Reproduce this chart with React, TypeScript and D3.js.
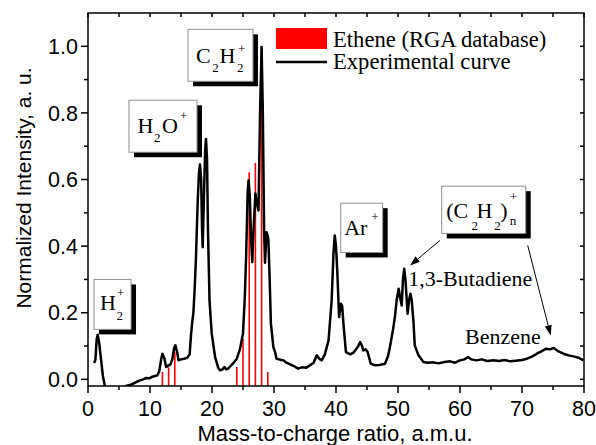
import React from "react";
import * as d3 from "d3";

// ---------- data ----------
const expMass: number[] = [
  1.0, 1.2, 1.4, 1.56, 1.8, 2.1, 2.4, 2.7, 3.0, 4.0, 5.0, 5.8, 6.2, 6.8, 7.3, 7.8, 8.3, 8.9, 9.4, 9.9,
  10.4, 10.8, 11.2, 11.5, 11.8, 12.0, 12.3, 12.6, 13.0, 13.3, 13.6, 13.9, 14.1, 14.4, 14.6, 15.0, 15.5,
  16.0, 16.4, 16.6, 16.8, 17.0, 17.2, 17.4, 17.7, 17.9, 18.06, 18.25, 18.4, 18.5, 18.7, 18.9, 19.03,
  19.2, 19.35, 19.6, 19.95, 20.5, 21.0, 21.3, 21.7, 22.0, 22.3, 22.6, 23.0, 23.5, 24.0, 24.5, 25.0,
  25.3, 25.5, 25.75, 25.9, 26.1, 26.3, 26.5, 26.7, 27.0, 27.2, 27.5, 27.75, 28.0, 28.2, 28.4, 28.55,
  28.8, 29.0, 29.1, 29.3, 29.5, 29.9, 30.2, 30.4, 30.8, 31.2, 31.5, 32.0, 32.6, 33.2, 33.9, 34.5, 35.2,
  35.8, 36.4, 36.9, 37.3, 37.7, 38.2, 38.8, 39.3, 39.6, 39.8, 40.0, 40.2, 40.5, 40.8, 41.0, 41.2, 41.6,
  42.3, 42.8, 43.1, 43.6, 43.9, 44.2, 44.4, 44.8, 45.1, 45.6, 46.3, 47.0, 47.9, 48.4, 48.7, 49.2, 49.5,
  49.8, 50.1, 50.4, 50.6, 50.8, 51.0, 51.2, 51.55, 51.8, 52.0, 52.2, 52.5, 52.7, 53.3, 54.1, 54.8, 55.7,
  56.5, 57.5, 58.4, 59.2, 60.0, 60.7, 61.3, 61.8, 62.7, 63.5, 64.4, 65.4, 66.3, 67.2, 68.1, 69.0, 70.0,
  70.8, 71.6, 72.4, 73.2, 73.9, 74.5, 75.1, 75.8, 76.7, 77.5, 78.3, 79.1, 79.9,
];
const expIntensity: number[] = [
  0.049, 0.06, 0.12, 0.134, 0.11, 0.06, 0.01, -0.018, -0.04, -0.05, -0.04, -0.025, -0.019, -0.017, -0.013,
  -0.008, -0.004, 0.0, 0.004, 0.003, 0.008, 0.01, 0.012, 0.025, 0.06, 0.077, 0.065, 0.037, 0.042, 0.045,
  0.06, 0.095, 0.102, 0.08, 0.057, 0.06, 0.062, 0.065, 0.075, 0.13, 0.17, 0.2, 0.27, 0.357, 0.537, 0.62,
  0.645, 0.6, 0.45, 0.397, 0.55, 0.69, 0.722, 0.66, 0.45, 0.237, 0.138, 0.067, 0.035, 0.027, 0.03, 0.037,
  0.03, 0.032, 0.04, 0.05, 0.062, 0.09, 0.138, 0.25, 0.367, 0.56, 0.598, 0.55, 0.42, 0.352, 0.45, 0.558,
  0.53, 0.507, 0.8, 0.998, 0.8, 0.45, 0.35, 0.442, 0.43, 0.417, 0.3, 0.168, 0.097, 0.08, 0.062, 0.06,
  0.058, 0.057, 0.05, 0.045, 0.04, 0.032, 0.036, 0.035, 0.042, 0.05, 0.072, 0.062, 0.057, 0.075, 0.117,
  0.237, 0.38, 0.432, 0.4, 0.327, 0.187, 0.227, 0.22, 0.167, 0.082, 0.075, 0.08, 0.087, 0.1, 0.112, 0.1,
  0.087, 0.09, 0.082, 0.047, 0.042, 0.043, 0.047, 0.07, 0.097, 0.15, 0.187, 0.24, 0.272, 0.24, 0.222, 0.3,
  0.332, 0.3, 0.197, 0.24, 0.257, 0.24, 0.172, 0.102, 0.072, 0.052, 0.05, 0.051, 0.048, 0.052, 0.054,
  0.05, 0.057, 0.06, 0.067, 0.06, 0.057, 0.06, 0.055, 0.057, 0.055, 0.058, 0.054, 0.056, 0.058, 0.062,
  0.068, 0.077, 0.085, 0.092, 0.09, 0.094, 0.085, 0.077, 0.072, 0.069, 0.065, 0.057,
];

const etheneMass: number[] = [12, 13, 14, 24, 25, 26, 27, 28, 29];
const etheneIntensity: number[] = [0.022, 0.036, 0.082, 0.037, 0.122, 0.622, 0.65, 1.0, 0.022];

const xMajorTicks: number[] = [0, 10, 20, 30, 40, 50, 60, 70, 80];
const yMajorTicks: number[] = [0, 0.2, 0.4, 0.6, 0.8, 1.0];

const legendLabels: string[] = ["Ethene (RGA database)", "Experimental curve"];
const xTitle = "Mass-to-charge ratio, a.m.u.";
const yTitle = "Normalized Intensity, a. u.";

// ---------- layout ----------
const W = 596;
const H = 445;
const L = 88, R = 584, T = 13, B = 386;
const serif = "'Liberation Serif', 'Times New Roman', serif";
const sans = "'Liberation Sans', Arial, sans-serif";

type Piece = { t: string; dx: number; dy: number; size: number };
type Box = { x0: number; x1: number; y0: number; y1: number; pieces: Piece[] };

// boxes in data coordinates (mass, intensity), text pieces offset in px from box top-left
const boxes: Box[] = [
  { x0: 0.97, x1: 6.94, y0: 0.30, y1: 0.15, pieces: [
    { t: "H", dx: 6, dy: 30.5, size: 22 }, { t: "2", dx: 22.5, dy: 41, size: 13 }, { t: "+", dx: 23, dy: 18, size: 13 } ] },
  { x0: 6.61, x1: 17.58, y0: 0.838, y1: 0.682, pieces: [
    { t: "H", dx: 8.5, dy: 32.7, size: 22 }, { t: "2", dx: 25, dy: 41.7, size: 13 },
    { t: "O", dx: 33, dy: 32.7, size: 22 }, { t: "+", dx: 51, dy: 19.5, size: 13 } ] },
  { x0: 16.13, x1: 26.61, y0: 1.051, y1: 0.895, pieces: [
    { t: "C", dx: 8, dy: 33.7, size: 22 }, { t: "2", dx: 24.3, dy: 42.7, size: 13 },
    { t: "H", dx: 31.5, dy: 33.7, size: 22 }, { t: "2", dx: 49, dy: 42.7, size: 13 }, { t: "+", dx: 50, dy: 24, size: 13 } ] },
  { x0: 40.76, x1: 47.53, y0: 0.529, y1: 0.381, pieces: [
    { t: "Ar", dx: 3.5, dy: 32, size: 22 }, { t: "+", dx: 30.5, dy: 17.5, size: 13 } ] },
  { x0: 57.05, x1: 70.6, y0: 0.580, y1: 0.438, pieces: [
    { t: "(C", dx: 4.5, dy: 32.3, size: 22 }, { t: "2", dx: 29.7, dy: 44, size: 13 },
    { t: "H", dx: 34.7, dy: 32.3, size: 22 }, { t: "2", dx: 52.5, dy: 44, size: 13 },
    { t: ")", dx: 58.5, dy: 32.3, size: 22 }, { t: "+", dx: 68, dy: 14.5, size: 13 }, { t: "n", dx: 68, dy: 39, size: 13 } ] },
];

const arrows = [
  { from: [56.77, 0.417], to: [51.94, 0.342] },
  { from: [70.92, 0.402], to: [74.63, 0.132] },
];
const notes = [
  { t: "1,3-Butadiene", m: 51.66, v: 0.279 },
  { t: "Benzene", m: 60.8, v: 0.107 },
];

export default function App() {
  const x = d3.scaleLinear().domain([0, 80]).range([L, R]);
  const y = d3.scaleLinear().domain([-0.02, 1.1]).range([B, T]);

  const pts: [number, number][] = expMass.map((m, i) => [m, expIntensity[i]]);
  const line = d3.line<[number, number]>().x((d) => x(d[0])).y((d) => y(d[1]));

  const xMinor = d3.range(5, 80, 10);
  const xAll = d3.range(0, 81, 5);
  const yMinor = d3.range(0.1, 1.05, 0.2);
  const yAll = d3.range(0, 1.05, 0.1);

  return (
    <svg width={W} height={H} style={{ position: "absolute", left: 0, top: 0, background: "#fff" }}>
      <defs>
        <clipPath id="plot">
          <rect x={L} y={T} width={R - L} height={B - T} />
        </clipPath>
      </defs>
      <rect x={0} y={0} width={W} height={H} fill="#fff" />

      {/* ethene sticks */}
      <g clipPath="url(#plot)">
        {etheneMass.map((m, i) => (
          <line key={i} x1={x(m)} x2={x(m)} y1={y(-0.02)} y2={y(etheneIntensity[i])} stroke="#ff0000" strokeWidth={1.6} />
        ))}
        <path d={line(pts) || ""} fill="none" stroke="#000" strokeWidth={2.5} strokeLinejoin="round" />
      </g>

      {/* frame */}
      <rect x={L} y={T} width={R - L} height={B - T} fill="none" stroke="#000" strokeWidth={1.5} />

      {/* ticks bottom */}
      {xMajorTicks.map((t) => (
        <g key={"xb" + t}>
          <line x1={x(t)} x2={x(t)} y1={B} y2={B + 7} stroke="#000" strokeWidth={1.5} />
          <text x={x(t)} y={B + 30} textAnchor="middle" fontFamily={sans} fontSize={21.5}>{t}</text>
        </g>
      ))}
      {xMinor.map((t) => (
        <line key={"xm" + t} x1={x(t)} x2={x(t)} y1={B} y2={B + 4} stroke="#000" strokeWidth={1.5} />
      ))}
      {xAll.map((t) => (
        <line key={"xt" + t} x1={x(t)} x2={x(t)} y1={T} y2={T + 4} stroke="#000" strokeWidth={1.5} />
      ))}

      {/* ticks left/right */}
      {yMajorTicks.map((t) => (
        <g key={"yl" + t}>
          <line x1={L - 7} x2={L} y1={y(t)} y2={y(t)} stroke="#000" strokeWidth={1.5} />
          <text x={L - 10} y={y(t)} dy="0.36em" textAnchor="end" fontFamily={sans} fontSize={21.5}>{t.toFixed(1)}</text>
        </g>
      ))}
      {yMinor.map((t) => (
        <line key={"ym" + t} x1={L - 4} x2={L} y1={y(t)} y2={y(t)} stroke="#000" strokeWidth={1.5} />
      ))}
      {yAll.map((t) => (
        <line key={"yr" + t} x1={R - 4} x2={R} y1={y(t)} y2={y(t)} stroke="#000" strokeWidth={1.5} />
      ))}

      {/* axis titles */}
      <text x={335} y={441} textAnchor="middle" fontFamily={sans} fontSize={22}>{xTitle}</text>
      <text transform={`translate(31,188) rotate(-90)`} textAnchor="middle" fontFamily={sans} fontSize={21}>{yTitle}</text>

      {/* legend */}
      <rect x={276} y={28} width={51} height={21} fill="#ff0000" />
      <line x1={276} x2={327} y1={62} y2={62} stroke="#000" strokeWidth={2.5} />
      <text x={333} y={47} fontFamily={serif} fontSize={22.6}>{legendLabels[0]}</text>
      <text x={333} y={69} fontFamily={serif} fontSize={22.6}>{legendLabels[1]}</text>

      {/* annotation boxes */}
      {boxes.map((b, i) => {
        const bx = x(b.x0), by = y(b.y0), bw = x(b.x1) - x(b.x0), bh = y(b.y1) - y(b.y0);
        return (
          <g key={"box" + i}>
            <rect x={bx + 5} y={by + 5} width={bw} height={bh} fill="#000" />
            <rect x={bx} y={by} width={bw} height={bh} fill="#fff" stroke="#909090" strokeWidth={1} />
            {b.pieces.map((p, j) => (
              <text key={j} x={bx + p.dx} y={by + p.dy} fontFamily={serif} fontSize={p.size}>{p.t}</text>
            ))}
          </g>
        );
      })}

      {/* arrows */}
      {arrows.map((a, i) => {
        const x1 = x(a.from[0]), y1 = y(a.from[1]), x2 = x(a.to[0]), y2 = y(a.to[1]);
        const ang = Math.atan2(y2 - y1, x2 - x1);
        const len = 10, wid = 3.5;
        const bxp = x2 - len * Math.cos(ang), byp = y2 - len * Math.sin(ang);
        const px = -Math.sin(ang) * wid, py = Math.cos(ang) * wid;
        return (
          <g key={"ar" + i}>
            <line x1={x1} y1={y1} x2={bxp} y2={byp} stroke="#000" strokeWidth={1} />
            <polygon points={`${x2},${y2} ${bxp + px},${byp + py} ${bxp - px},${byp - py}`} fill="#000" />
          </g>
        );
      })}
      {notes.map((n, i) => (
        <text key={"n" + i} x={x(n.m)} y={y(n.v)} fontFamily={serif} fontSize={22}>{n.t}</text>
      ))}
    </svg>
  );
}
